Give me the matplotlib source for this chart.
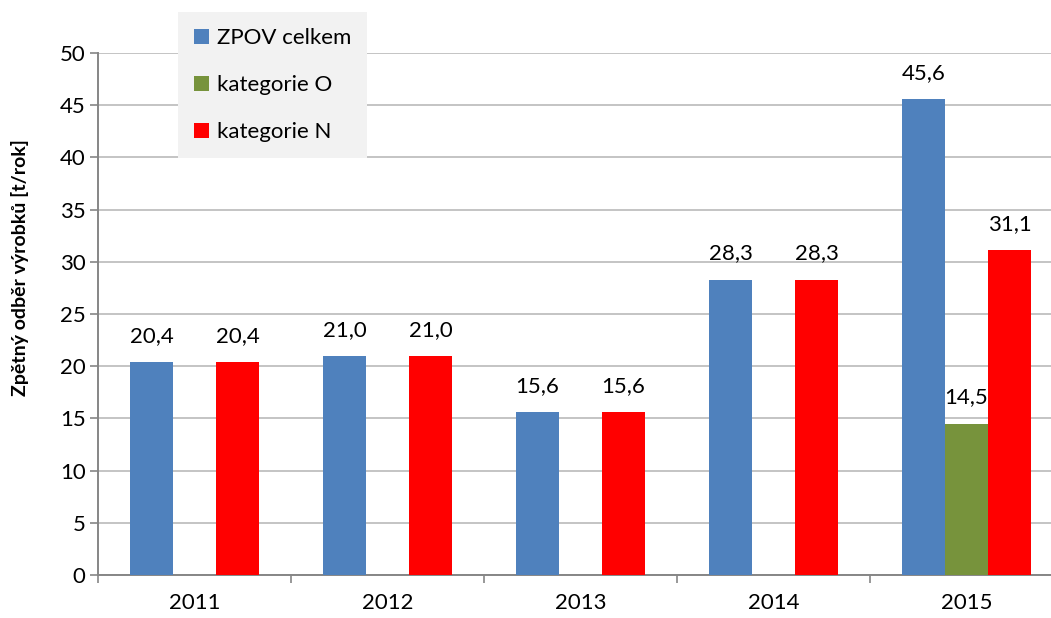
import numpy as np
import matplotlib.pyplot as plt

plt.rcParams['font.family'] = ['Lato', 'DejaVu Sans']

years = ['2011', '2012', '2013', '2014', '2015']
zpov_celkem = [20.4, 21.0, 15.6, 28.3, 45.6]
kategorie_o = [np.nan, np.nan, np.nan, np.nan, 14.5]
kategorie_n = [20.4, 21.0, 15.6, 28.3, 31.1]

series = [
    ('ZPOV celkem', zpov_celkem, '#4F81BD'),
    ('kategorie O', kategorie_o, '#77933C'),
    ('kategorie N', kategorie_n, '#FF0000'),
]

W, H = 1051, 618
FS = 16
fig = plt.figure(figsize=(W / 100, H / 100), dpi=100)
# plot area runs past the right edge, like the original
ax = fig.add_axes([98 / W, (H - 575) / H, 965 / W, (575 - 53) / H])

x = np.arange(len(years))
bw = 0.223
for i, (name, vals, col) in enumerate(series):
    pos = x + (i - 1) * bw
    ax.bar(pos, vals, width=bw, color=col, label=name, zorder=3)
    for px, v in zip(pos, vals):
        if np.isnan(v):
            continue
        ax.annotate(f'{v:.1f}'.replace('.', ','), (px, v), xytext=(0, 14.5),
                    textcoords='offset points', ha='center', va='baseline',
                    fontsize=FS, zorder=4)

ax.set_xlim(-0.5, len(years) - 0.5)
ax.set_ylim(0, 50)
ax.set_yticks(range(0, 51, 5))
ax.yaxis.grid(True, color='#BFBFBF', linewidth=1.3, zorder=0)

# category ticks sit on the boundaries, labels in the middle
ax.set_xticks(np.arange(-0.5, len(years), 1.0))
ax.set_xticklabels([])
ax.set_xticks(x, minor=True)
ax.set_xticklabels(years, minor=True)
ax.tick_params(axis='x', which='minor', length=0, pad=13, labelsize=FS)
ax.tick_params(axis='x', which='major', length=6, color='#868686', width=1.2)
ax.tick_params(axis='y', length=6, color='#868686', width=1.2, pad=3, labelsize=FS)

for s in ['top', 'right']:
    ax.spines[s].set_visible(False)
for s in ['left', 'bottom']:
    ax.spines[s].set_color('#868686')
    ax.spines[s].set_linewidth(1.4)

fig.text(20 / W, 1 - 268 / H, 'Zpětný odběr výrobků [t/rok]', rotation=90,
         ha='center', va='center', fontsize=14, fontweight='bold')

leg = fig.legend(loc='upper left', bbox_to_anchor=(178 / W, 1 - 12 / H),
                 fontsize=FS, frameon=True, fancybox=False,
                 handlelength=0.68, handleheight=0.68, handletextpad=0.35,
                 labelspacing=1.22, borderpad=0.72, borderaxespad=0)
leg.get_frame().set_facecolor('#F2F2F2')
leg.get_frame().set_edgecolor('none')
leg.get_frame().set_alpha(1)

fig.savefig('out.png', dpi=100)
